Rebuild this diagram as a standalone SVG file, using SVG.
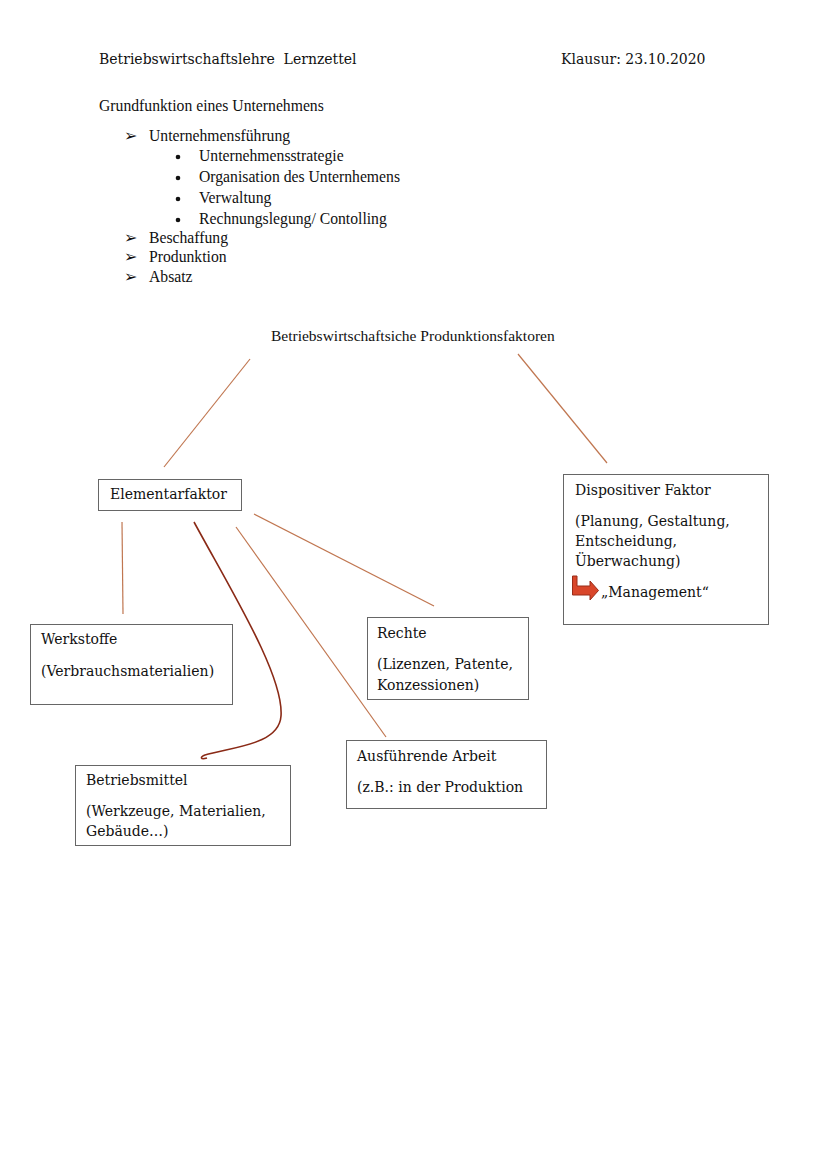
<svg xmlns="http://www.w3.org/2000/svg" width="828" height="1171" viewBox="0 0 828 1171">
<style>
.h{font-family:"DejaVu Serif","Liberation Serif",serif;font-size:14px;fill:#111;white-space:pre}
.l{font-family:"Liberation Serif","DejaVu Serif",serif;font-size:15.7px;fill:#111}
.t{font-family:"Liberation Serif","DejaVu Serif",serif;font-size:15.5px;fill:#111}
.b{font-family:"DejaVu Serif","Liberation Serif",serif;font-size:14px;fill:#111}
.box{fill:#fff;stroke:#666;stroke-width:1}
.con{stroke:#c07650;stroke-width:1.2;fill:none}
.cur{stroke:#8a2a16;stroke-width:1.6;fill:none}
</style>
<rect width="828" height="1171" fill="#fff"/>
<g id="header">
<text class="h" x="99" y="64" xml:space="preserve">Betriebswirtschaftslehre  Lernzettel</text>
<text class="h" x="561" y="64">Klausur: 23.10.2020</text>
</g>
<g id="list">
<text class="l" x="99" y="111">Grundfunktion eines Unternehmens</text>
<text class="l" x="124" y="141">➢</text><text class="l" x="149" y="141">Unternehmensführung</text>
<circle cx="178" cy="157" r="2.3" fill="#111"/><text class="l" x="199" y="161">Unternehmensstrategie</text>
<circle cx="178" cy="178" r="2.3" fill="#111"/><text class="l" x="199" y="182">Organisation des Unternhemens</text>
<circle cx="178" cy="199" r="2.3" fill="#111"/><text class="l" x="199" y="203">Verwaltung</text>
<circle cx="178" cy="220" r="2.3" fill="#111"/><text class="l" x="199" y="224">Rechnungslegung/ Contolling</text>
<text class="l" x="124" y="243">➢</text><text class="l" x="149" y="243">Beschaffung</text>
<text class="l" x="124" y="262">➢</text><text class="l" x="149" y="262">Produnktion</text>
<text class="l" x="124" y="282">➢</text><text class="l" x="149" y="282">Absatz</text>
</g>
<g id="title"><text class="t" x="271" y="341">Betriebswirtschaftsiche Produnktionsfaktoren</text></g>
<g id="connectors">
<line class="con" x1="250" y1="359" x2="164" y2="467"/>
<line class="con" x1="518" y1="354" x2="607" y2="463"/>
<line class="con" x1="122" y1="522" x2="123" y2="614"/>
<line class="con" x1="254" y1="514" x2="434" y2="606"/>
<line class="con" x1="236" y1="527" x2="386" y2="737"/>
<path class="cur" d="M194,522 C232,592 284,676 281,716 C279,745 232,747 205,755 C200,757 200,760 207,758"/>
</g>
<g id="elementarfaktor">
<rect class="box" x="98.5" y="479.5" width="143" height="31"/>
<text class="b" x="110" y="499">Elementarfaktor</text>
</g>
<g id="dispositiver">
<rect class="box" x="563.5" y="474.5" width="205" height="150"/>
<text class="b" x="575" y="495">Dispositiver Faktor</text>
<text class="b" x="575" y="526">(Planung, Gestaltung,</text>
<text class="b" x="575" y="546">Entscheidung,</text>
<text class="b" x="575" y="566">Überwachung)</text>
<path d="M572.5,576 H577 V586 H590 V581 L598.5,590.5 L590,600 V595 H572.5 Z" fill="#d9462a" stroke="#9a2c18" stroke-width="1"/>
<text class="b" x="601" y="597">„Management“</text>
</g>
<g id="werkstoffe">
<rect class="box" x="30.5" y="624.5" width="202" height="80"/>
<text class="b" x="41" y="644">Werkstoffe</text>
<text class="b" x="41" y="676">(Verbrauchsmaterialien)</text>
</g>
<g id="rechte">
<rect class="box" x="367.5" y="617.5" width="161" height="82"/>
<text class="b" x="377" y="638">Rechte</text>
<text class="b" x="377" y="669">(Lizenzen, Patente,</text>
<text class="b" x="377" y="690">Konzessionen)</text>
</g>
<g id="ausfuehrende">
<rect class="box" x="346.5" y="740.5" width="200" height="68"/>
<text class="b" x="357" y="761">Ausführende Arbeit</text>
<text class="b" x="357" y="792">(z.B.: in der Produktion</text>
</g>
<g id="betriebsmittel">
<rect class="box" x="75.5" y="765.5" width="215" height="80"/>
<text class="b" x="86" y="785">Betriebsmittel</text>
<text class="b" x="86" y="816">(Werkzeuge, Materialien,</text>
<text class="b" x="86" y="836">Gebäude…)</text>
</g>
</svg>
